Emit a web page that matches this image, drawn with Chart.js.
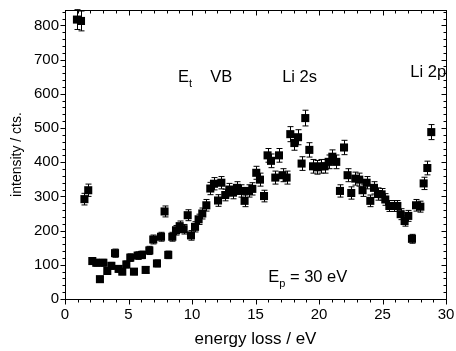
<!DOCTYPE html>
<html>
<head>
<meta charset="utf-8">
<script src="https://cdn.jsdelivr.net/npm/chart.js@4/dist/chart.umd.min.js"></script>
<style>
  html, body { margin: 0; padding: 0; background: #fff; }
  #wrap { width: 456px; height: 351px; }
</style>
</head>
<body>
<div id="wrap"><canvas id="c"></canvas></div>
<script>
// energy loss (eV), intensity (cts.) and error bar half-heights
const energy = [0.94, 1.26, 1.53, 1.83, 2.15, 2.46, 2.75, 3.02, 3.33, 3.65,
    3.94, 4.22, 4.51, 4.83, 5.14, 5.43, 5.72, 6.06, 6.35, 6.64,
    6.95, 7.24, 7.56, 7.84, 8.13, 8.45, 8.74, 9.03, 9.34, 9.66,
    9.92, 10.24, 10.52, 10.81, 11.13, 11.44, 11.73, 12.05, 12.31, 12.62,
    12.94, 13.23, 13.54, 13.86, 14.14, 14.46, 14.75, 15.06, 15.35, 15.67,
    15.95, 16.22, 16.56, 16.85, 17.13, 17.45, 17.74, 18.06, 18.35, 18.63,
    18.92, 19.24, 19.53, 19.84, 20.18, 20.44, 20.76, 21.05, 21.36, 21.65,
    21.97, 22.25, 22.54, 22.86, 23.17, 23.43, 23.75, 24.04, 24.33, 24.65,
    24.93, 25.22, 25.54, 25.87, 26.17, 26.43, 26.74, 27.03, 27.32, 27.64,
    27.98, 28.24, 28.53, 28.84];
const intensity = [817, 813, 292, 318, 111, 106, 58, 106, 82, 97,
    134, 88, 80, 101, 121, 80, 127, 129, 85, 142,
    174, 104, 182, 256, 129, 182, 201, 213, 204, 245,
    186, 211, 233, 250, 274, 323, 337, 288, 340, 304,
    320, 311, 325, 316, 287, 316, 322, 369, 349, 301,
    420, 404, 355, 420, 362, 355, 482, 456, 473, 396,
    529, 436, 388, 385, 388, 388, 401, 416, 401, 316,
    443, 362, 310, 352, 349, 318, 340, 287, 325, 307,
    306, 291, 272, 272, 272, 248, 228, 243, 176, 274,
    270, 338, 383, 488];
const errors = [29, 29, 17, 18, 10, 10, 8, 10, 9, 10,
    12, 9, 9, 10, 11, 9, 11, 11, 9, 12,
    13, 10, 13, 16, 11, 13, 14, 15, 14, 16,
    14, 15, 15, 16, 17, 18, 18, 17, 18, 17,
    18, 18, 18, 18, 17, 18, 18, 19, 19, 17,
    20, 20, 19, 20, 19, 19, 22, 21, 22, 20,
    23, 21, 20, 20, 20, 20, 20, 20, 20, 18,
    21, 19, 18, 19, 19, 18, 18, 17, 18, 18,
    17, 17, 16, 16, 16, 16, 15, 16, 13, 17,
    16, 18, 20, 22];
const xTicks = [0, 5, 10, 15, 20, 25, 30];
const yTicks = [0, 100, 200, 300, 400, 500, 600, 700, 800];

// text labels in data coordinates: [main, subscript, x, y, tail]
const notes = [
    ['E', 't', 8.9, 634],
    ['VB', '', 11.44, 634],
    ['Li 2s', '', 17.1, 634],
    ['Li 2p', '', 27.19, 648],
    ['E', 'p', 16.0, 51, ' = 30 eV']
];

const FONT = "'Liberation Sans', Arial, sans-serif";

const errorBars = {
    id: 'errorBars',
    beforeDatasetsDraw(chart) {
        const ctx = chart.ctx;
        const xs = chart.scales.x, ys = chart.scales.y;
        ctx.save();
        ctx.strokeStyle = '#000';
        ctx.lineWidth = 1;
        energy.forEach((e, i) => {
            const px = Math.round(xs.getPixelForValue(e)) + 0.5;
            const y1 = ys.getPixelForValue(intensity[i] - errors[i]);
            const y2 = ys.getPixelForValue(intensity[i] + errors[i]);
            ctx.beginPath();
            ctx.moveTo(px, y1); ctx.lineTo(px, y2);
            ctx.moveTo(px - 3, y1); ctx.lineTo(px + 3, y1);
            ctx.moveTo(px - 3, y2); ctx.lineTo(px + 3, y2);
            ctx.stroke();
        });
        ctx.restore();
    }
};

const frame = {
    id: 'frame',
    afterDraw(chart) {
        const ctx = chart.ctx;
        const a = chart.chartArea;
        const xs = chart.scales.x, ys = chart.scales.y;
        ctx.save();
        ctx.strokeStyle = '#000';
        ctx.lineWidth = 1;
        const l = Math.round(a.left) + 0.5, r = Math.round(a.right) + 0.5;
        const t = Math.round(a.top) + 0.5, b = Math.round(a.bottom) + 0.5;
        ctx.strokeRect(l, t, r - l, b - t);
        ctx.beginPath();
        for (let v = 0; v <= 30; v += 1) {
            const p = Math.round(xs.getPixelForValue(v)) + 0.5;
            const len = v % 5 === 0 ? 5 : 3;
            ctx.moveTo(p, b); ctx.lineTo(p, b + len);
            ctx.moveTo(p, t); ctx.lineTo(p, t + len);
        }
        for (let v = 0; v <= 840; v += 20) {
            const p = Math.round(ys.getPixelForValue(v)) + 0.5;
            const len = v % 100 === 0 ? 5 : 3;
            ctx.moveTo(l, p); ctx.lineTo(l - len, p);
            ctx.moveTo(r, p); ctx.lineTo(r - len, p);
        }
        ctx.stroke();

        // annotations
        ctx.fillStyle = '#000';
        ctx.textBaseline = 'alphabetic';
        ctx.textAlign = 'left';
        notes.forEach(n => {
            let x = xs.getPixelForValue(n[2]);
            const y = ys.getPixelForValue(n[3]);
            ctx.font = '16.5px ' + FONT;
            ctx.fillText(n[0], x, y);
            x += ctx.measureText(n[0]).width;
            if (n[1]) {
                ctx.font = '11px ' + FONT;
                ctx.fillText(n[1], x, y + 5);
                x += ctx.measureText(n[1]).width;
            }
            if (n[4]) {
                ctx.font = '16.5px ' + FONT;
                ctx.fillText(n[4], x, y);
            }
        });
        ctx.restore();
    }
};

new Chart(document.getElementById('c'), {
    type: 'scatter',
    data: {
        datasets: [{
            data: energy.map((e, i) => ({ x: e, y: intensity[i] })),
            pointStyle: 'rect',
            pointRadius: 5.7,
            pointHoverRadius: 5.7,
            backgroundColor: '#000',
            borderColor: '#000',
            borderWidth: 0
        }]
    },
    options: {
        responsive: true,
        maintainAspectRatio: false,
        animation: false,
        events: [],
        layout: { padding: { top: 10, right: 10, left: 0, bottom: 0 } },
        plugins: {
            legend: { display: false },
            tooltip: { enabled: false }
        },
        scales: {
            x: {
                type: 'linear',
                min: 0,
                max: 30,
                afterBuildTicks: s => { s.ticks = xTicks.map(v => ({ value: v })); },
                afterFit: s => {
                    s.height = 52;
                    s.paddingLeft = 0;
                    s.paddingRight = 0;
                },
                grid: { display: false, drawTicks: false },
                border: { display: false },
                ticks: { color: '#000', padding: 7, font: { family: FONT, size: 15 } },
                title: {
                    display: true,
                    text: 'energy loss / eV',
                    color: '#000',
                    font: { family: FONT, size: 17 },
                    padding: { top: 3, bottom: 1 }
                }
            },
            y: {
                min: 0,
                max: 845,
                afterBuildTicks: s => { s.ticks = yTicks.map(v => ({ value: v })); },
                afterFit: s => {
                    s.width = 65;
                    s.paddingTop = 0;
                    s.paddingBottom = 0;
                },
                grid: { display: false, drawTicks: false },
                border: { display: false },
                ticks: { color: '#000', padding: 6, font: { family: FONT, size: 15 } },
                title: {
                    display: true,
                    text: 'intensity / cts.',
                    color: '#000',
                    font: { family: FONT, size: 14 },
                    padding: { top: 9, bottom: 7 }
                }
            }
        }
    },
    plugins: [errorBars, frame]
});
</script>
</body>
</html>
